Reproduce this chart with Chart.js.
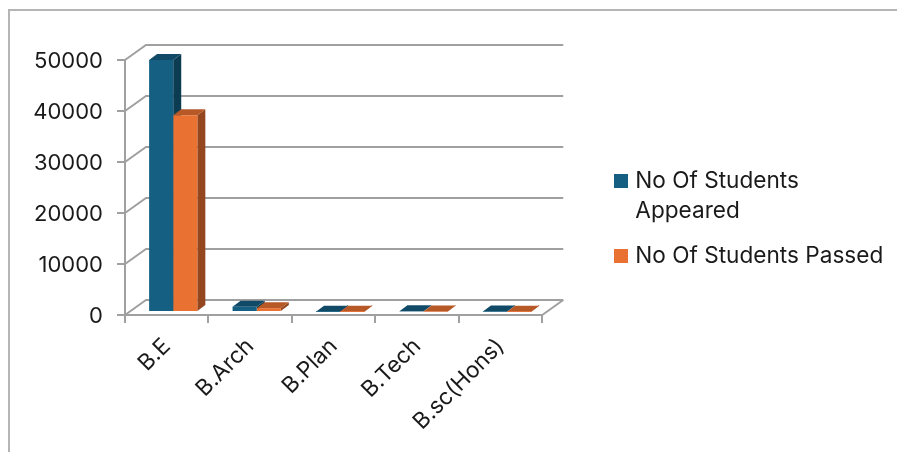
<!DOCTYPE html>
<html>
<head>
<meta charset="utf-8">
<style>
  html, body { margin: 0; background: #fff; }
  #wrap { position: relative; width: 897px; height: 452px; overflow: hidden; }
  #frame { position: absolute; left: 8px; top: 9px; right: 0; bottom: 0; border-left: 2px solid #b5b5b5; border-top: 2px solid #b5b5b5; }
  canvas { position: absolute; left: 0; top: 0; }
</style>
<script src="https://cdn.jsdelivr.net/npm/chart.js@4"></script>
</head>
<body>
<div id="wrap">
  <div id="frame"></div>
  <canvas id="myChart" width="897" height="452"></canvas>
</div>
<script>
const courses = ['B.E', 'B.Arch', 'B.Plan', 'B.Tech', 'B.sc(Hons)'];
const appeared = [49400, 1050, 60, 150, 80];
const passed = [38600, 750, 40, 100, 50];
const seriesNames = [['No Of Students', 'Appeared'], 'No Of Students Passed'];

const gridColor = '#a0a0a0';
const textColor = '#1a1a1a';
const fontName = 'Inter, "Noto Sans", sans-serif';

// offsets of the fake 3d box
const wall = { dx: 21, dy: -15 };
const barShift = { dx: 6.5, dy: -3 };
const barDepth = { dx: 8, dy: -6 };
const sideColors = [
  { top: '#104a66', side: '#0c3c52' },
  { top: '#b65927', side: '#94471e' }
];

const poly = (ctx, pts, color) => {
  ctx.fillStyle = color;
  ctx.beginPath();
  pts.forEach((p, i) => i ? ctx.lineTo(p[0], p[1]) : ctx.moveTo(p[0], p[1]));
  ctx.closePath();
  ctx.fill();
};

// legend marker, wider than the box chart.js reserves so the text sits close to it
const squareIcon = (color) => {
  const c = document.createElement('canvas');
  c.width = 14;
  c.height = 14;
  const g = c.getContext('2d');
  g.fillStyle = color;
  g.fillRect(0, 0, 14, 14);
  return c;
};

const box3d = {
  id: 'box3d',
  afterLayout(chart) {
    // legend is placed by hand, further right and higher than its layout box
    chart.legend.left = 602.5;
    chart.legend.right = chart.width;
    chart.legend.top = 154.5;
    chart.legend.bottom = chart.height;

    // y labels sit a bit low against their ticks
    const y = chart.scales.y;
    const drawLabels = y.drawLabels;
    y.drawLabels = function (area) {
      y.ctx.save();
      y.ctx.translate(0, 1.5);
      drawLabels.call(y, area);
      y.ctx.restore();
    };
  },
  beforeDatasetsDraw(chart) {
    const { ctx, chartArea: a, scales: { y } } = chart;
    ctx.save();
    ctx.strokeStyle = gridColor;
    ctx.lineWidth = 2;
    y.ticks.forEach((t) => {
      const py = y.getPixelForValue(t.value);
      ctx.beginPath();
      ctx.moveTo(a.left, py);
      ctx.lineTo(a.left + wall.dx, py + wall.dy);
      ctx.lineTo(a.right + wall.dx, py + wall.dy);
      ctx.stroke();
    });
    // floor edge on the right
    ctx.beginPath();
    ctx.moveTo(a.right, a.bottom);
    ctx.lineTo(a.right + wall.dx, a.bottom + wall.dy);
    ctx.stroke();

    ctx.translate(barShift.dx, barShift.dy);
    chart.data.datasets.forEach((ds, di) => {
      chart.getDatasetMeta(di).data.forEach((bar) => {
        const { x, y: top, base, width } = bar.getProps(['x', 'y', 'base', 'width'], true);
        const l = x - width / 2, r = x + width / 2;
        const dx = barDepth.dx, dy = barDepth.dy;
        poly(ctx, [[r, top], [r + dx, top + dy], [r + dx, base + dy], [r, base]], sideColors[di].side);
        poly(ctx, [[l, top], [l + dx, top + dy], [r + dx, top + dy], [r, top]], sideColors[di].top);
      });
    });
  },
  afterDatasetsDraw(chart) {
    chart.ctx.restore();
  }
};

new Chart(document.getElementById('myChart').getContext('2d'), {
  type: 'bar',
  data: {
    labels: courses,
    datasets: [
      { label: 'No Of Students Appeared', data: appeared, backgroundColor: '#156082', clip: false },
      { label: 'No Of Students Passed', data: passed, backgroundColor: '#e97132', clip: false }
    ]
  },
  options: {
    responsive: false,
    animation: false,
    devicePixelRatio: 1,
    layout: { padding: { left: 0, top: 60, right: 174, bottom: 0 } },
    datasets: { bar: { categoryPercentage: 0.578, barPercentage: 1 } },
    scales: {
      x: {
        afterFit: (s) => { s.height = 137; },
        border: { color: gridColor, width: 2 },
        grid: { drawOnChartArea: false, color: gridColor, lineWidth: 2, tickLength: 8, offset: true },
        ticks: { color: textColor, font: { family: fontName, size: 22.5 }, minRotation: 45, maxRotation: 45, padding: 10 }
      },
      y: {
        min: 0,
        max: 50000,
        afterFit: (s) => { s.width = 125; },
        border: { color: gridColor, width: 2 },
        grid: { drawOnChartArea: false, color: gridColor, lineWidth: 2, tickLength: 8 },
        ticks: { stepSize: 10000, color: textColor, font: { family: fontName, size: 22 }, padding: 14, format: { useGrouping: false } }
      }
    },
    plugins: {
      tooltip: { enabled: false },
      legend: {
        position: 'right',
        align: 'start',
        labels: {
          color: textColor,
          font: { family: fontName, size: 22.6, lineHeight: 30 / 22.6 },
          usePointStyle: true,
          pointStyleWidth: 6.5,
          boxHeight: 14,
          padding: 15,
          generateLabels: (chart) => chart.data.datasets.map((ds, i) => ({
            text: seriesNames[i],
            fillStyle: ds.backgroundColor,
            strokeStyle: ds.backgroundColor,
            lineWidth: 0,
            pointStyle: squareIcon(ds.backgroundColor),
            datasetIndex: i,
            fontColor: textColor
          }))
        }
      }
    }
  },
  plugins: [box3d]
});
</script>
</body>
</html>
